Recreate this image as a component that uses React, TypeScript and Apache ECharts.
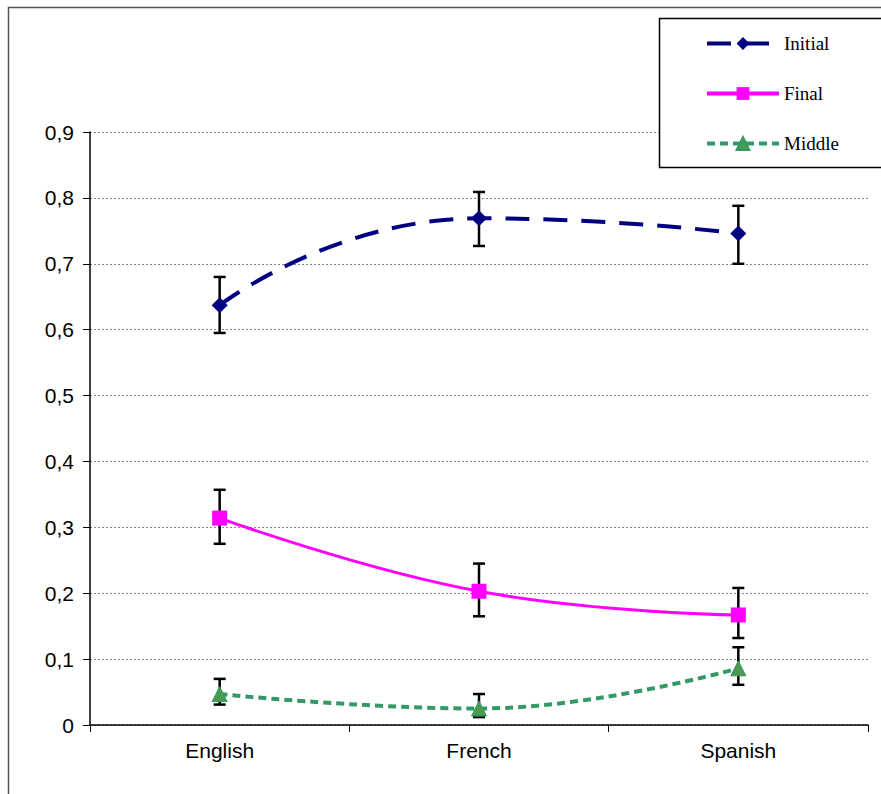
import React, { useEffect, useRef } from "react";
import * as echarts from "echarts";

const categories = ["English", "French", "Spanish"];
const seriesNames = ["Initial", "Final", "Middle"];

const initialValues = [0.637, 0.769, 0.746];
const initialLow = [0.595, 0.727, 0.7];
const initialHigh = [0.68, 0.809, 0.788];

const finalValues = [0.314, 0.203, 0.167];
const finalLow = [0.275, 0.165, 0.132];
const finalHigh = [0.357, 0.245, 0.208];

const middleValues = [0.047, 0.025, 0.086];
const middleLow = [0.031, 0.012, 0.061];
const middleHigh = [0.07, 0.047, 0.118];

const yTicks = [0, 0.1, 0.2, 0.3, 0.4, 0.5, 0.6, 0.7, 0.8, 0.9];

const errorData = (low: number[], high: number[]) =>
  low.map((l, i) => [i, l, high[i]]);

const errorSeries = (low: number[], high: number[]) => ({
  type: "custom",
  silent: true,
  z: 5,
  data: errorData(low, high),
  renderItem: (params: any, api: any) => {
    const x = api.value(0);
    const top = api.coord([x, api.value(2)]);
    const bot = api.coord([x, api.value(1)]);
    const half = 6;
    const style = { stroke: "#000", lineWidth: 2.5 };
    return {
      type: "group",
      children: [
        { type: "line", shape: { x1: top[0], y1: top[1], x2: bot[0], y2: bot[1] }, style },
        { type: "line", shape: { x1: top[0] - half, y1: top[1], x2: top[0] + half, y2: top[1] }, style },
        { type: "line", shape: { x1: bot[0] - half, y1: bot[1], x2: bot[0] + half, y2: bot[1] }, style },
      ],
    };
  },
});

const lineStyles: Record<string, any> = {
  Initial: { color: "#000080", width: 4, type: [24, 14] },
  Final: { color: "#FF00FF", width: 4 },
  Middle: { color: "#339966", width: 4, type: [8, 5] },
};

export default function App() {
  const ref = useRef<HTMLDivElement>(null);

  useEffect(() => {
    if (!ref.current) return;
    const chart = echarts.init(ref.current, null, { renderer: "svg" });
    chart.setOption({
      animation: false,
      backgroundColor: "#fff",
      graphic: [
        {
          type: "rect",
          shape: { x: 8.5, y: 7.5, width: 900, height: 900 },
          style: { fill: "none", stroke: "#555", lineWidth: 1.5 },
          z: -1,
        },
        {
          type: "rect",
          shape: { x: 659.5, y: 18.5, width: 240, height: 149 },
          style: { fill: "#fff", stroke: "#000", lineWidth: 1.5 },
          z: 10,
        },
      ],
      legend: {
        orient: "vertical",
        left: 700,
        top: 28,
        itemWidth: 72,
        itemHeight: 16,
        itemGap: 29,
        z: 11,
        data: seriesNames.map((n) => ({
          name: n,
          lineStyle: { ...lineStyles[n], width: 4 },
        })),
        textStyle: {
          fontFamily: "Liberation Serif",
          fontSize: 19,
          color: "#000",
          lineHeight: 21,
        },
      },
      grid: { left: 90, right: 13, top: 132, bottom: 69 },
      xAxis: {
        type: "category",
        data: categories,
        boundaryGap: true,
        axisLine: { lineStyle: { color: "#000", width: 1.5 } },
        axisTick: { show: true, length: 7, lineStyle: { color: "#000" } },
        axisLabel: {
          color: "#000",
          fontFamily: "Liberation Sans",
          fontSize: 21,
          margin: 15,
        },
      },
      yAxis: {
        type: "value",
        min: 0,
        max: 0.9,
        interval: 0.1,
        axisLine: { show: true, lineStyle: { color: "#000", width: 1.5 } },
        axisTick: { show: true, length: 7, lineStyle: { color: "#000" } },
        axisLabel: {
          color: "#000",
          fontFamily: "Liberation Sans",
          fontSize: 21,
          margin: 16,
          formatter: (v: number) => {
            const t = yTicks.find((k) => Math.abs(k - v) < 1e-9) ?? v;
            return t === 0 ? "0" : t.toFixed(1).replace(".", ",");
          },
        },
        splitLine: {
          lineStyle: { color: "#888", type: [2, 2], width: 1 },
        },
      },
      series: [
        {
          name: "Initial",
          type: "line",
          data: initialValues,
          smooth: 0.55,
          symbol: "diamond",
          symbolSize: 16,
          color: "#000080",
          lineStyle: lineStyles.Initial,
          itemStyle: { color: "#000080" },
          z: 6,
        },
        {
          name: "Final",
          type: "line",
          data: finalValues,
          smooth: 0.45,
          symbol: "rect",
          symbolSize: 15,
          color: "#FF00FF",
          lineStyle: { ...lineStyles.Final, width: 3 },
          itemStyle: { color: "#FF00FF" },
          z: 6,
        },
        {
          name: "Middle",
          type: "line",
          data: middleValues,
          smooth: 0.45,
          symbol: "triangle",
          symbolSize: 15,
          color: "#339966",
          lineStyle: lineStyles.Middle,
          itemStyle: { color: "#4a9a4f", borderColor: "#339966", borderWidth: 1 },
          z: 6,
        },
        errorSeries(initialLow, initialHigh),
        errorSeries(finalLow, finalHigh),
        errorSeries(middleLow, middleHigh),
      ],
    });
    return () => chart.dispose();
  }, []);

  return (
    <div
      ref={ref}
      style={{ position: "absolute", left: 0, top: 0, width: 881, height: 794 }}
    />
  );
}
